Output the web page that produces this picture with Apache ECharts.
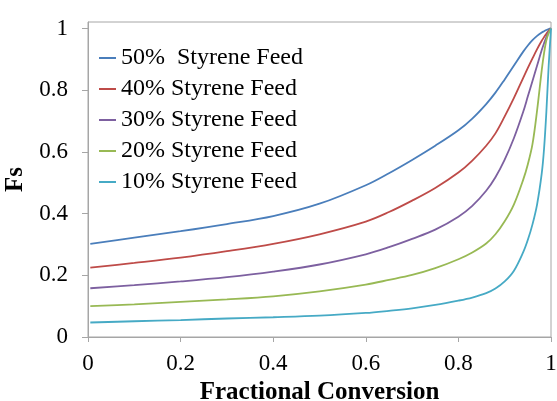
<!DOCTYPE html>
<html>
<head>
<meta charset="utf-8">
<script src="https://cdn.jsdelivr.net/npm/echarts@6/dist/echarts.min.js"></script>
<style>html,body{margin:0;padding:0;background:#fff;}#c{width:557px;height:401px;}</style>
</head>
<body>
<div id="c"></div>
<script>
const conversion = [0.005, 0.1, 0.2, 0.3, 0.4, 0.5, 0.6, 0.65, 0.7, 0.75, 0.8, 0.83, 0.86, 0.88, 0.9, 0.92, 0.94, 0.95, 0.96, 0.97, 0.98, 0.985, 0.99, 0.995, 1.0];
const seriesNames = ['50%  Styrene Feed', '40% Styrene Feed', '30% Styrene Feed', '20% Styrene Feed', '10% Styrene Feed'];
const feed50 = [0.302, 0.322, 0.343, 0.366, 0.392, 0.432, 0.492, 0.531, 0.574, 0.620, 0.670, 0.708, 0.755, 0.792, 0.835, 0.880, 0.925, 0.945, 0.962, 0.976, 0.987, 0.991, 0.995, 0.998, 1.0];
const feed40 = [0.225, 0.240, 0.257, 0.278, 0.302, 0.333, 0.374, 0.405, 0.442, 0.483, 0.533, 0.572, 0.620, 0.660, 0.715, 0.775, 0.840, 0.872, 0.903, 0.933, 0.960, 0.972, 0.983, 0.992, 1.0];
const feed30 = [0.158, 0.168, 0.180, 0.194, 0.212, 0.235, 0.268, 0.291, 0.318, 0.348, 0.390, 0.425, 0.474, 0.518, 0.575, 0.645, 0.730, 0.780, 0.830, 0.880, 0.930, 0.952, 0.972, 0.988, 1.0];
const feed20 = [0.100, 0.106, 0.114, 0.122, 0.132, 0.148, 0.170, 0.185, 0.201, 0.223, 0.252, 0.274, 0.303, 0.333, 0.375, 0.430, 0.510, 0.560, 0.625, 0.735, 0.865, 0.920, 0.962, 0.985, 1.0];
const feed10 = [0.047, 0.051, 0.055, 0.060, 0.064, 0.069, 0.078, 0.085, 0.093, 0.104, 0.118, 0.128, 0.142, 0.157, 0.180, 0.215, 0.275, 0.315, 0.365, 0.430, 0.530, 0.610, 0.730, 0.880, 1.0];
const yTicks = [0, 0.2, 0.4, 0.6, 0.8, 1];
const xTicks = [0, 0.2, 0.4, 0.6, 0.8, 1];

const colors = ['#4a7ebb', '#be4b48', '#7d60a0', '#98b954', '#46aac5'];
const allValues = [feed50, feed40, feed30, feed20, feed10];
const serif = 'Liberation Serif, Times New Roman, serif';
const frameColor = '#a6a6a6';

const chart = echarts.init(document.getElementById('c'), null, {renderer: 'canvas'});
chart.setOption({
  animation: false,
  backgroundColor: '#fff',
  grid: {left: 88, right: 6, top: 22, bottom: 64, outerBoundsMode: 'none', containLabel: false,
         show: true, borderColor: frameColor, borderWidth: 1, backgroundColor: 'transparent'},
  legend: {
    orient: 'vertical', left: 99, top: 46, padding: 0,
    itemWidth: 17, itemHeight: 2, itemGap: 7, icon: 'rect',
    textStyle: {fontFamily: serif, fontSize: 24, color: '#000'},
    data: seriesNames
  },
  xAxis: {
    type: 'value', min: 0, max: 1, interval: 0.2,
    name: 'Fractional Conversion', nameLocation: 'middle', nameGap: 38,
    nameTextStyle: {fontFamily: serif, fontSize: 25, fontWeight: 'bold', color: '#000'},
    axisLine: {show: true, lineStyle: {color: frameColor, width: 1}},
    axisTick: {show: true, length: 5, lineStyle: {color: frameColor}, customValues: xTicks},
    axisLabel: {fontFamily: serif, fontSize: 23, color: '#000', margin: 15, customValues: xTicks},
    splitLine: {show: false}
  },
  yAxis: {
    type: 'value', min: 0, max: 1.021,
    name: 'Fs', nameLocation: 'middle', nameGap: 55, nameRotate: 90,
    nameTextStyle: {fontFamily: serif, fontSize: 25, fontWeight: 'bold', color: '#000'},
    axisLine: {show: true, lineStyle: {color: frameColor, width: 1}},
    axisTick: {show: true, length: 6, lineStyle: {color: frameColor}, customValues: yTicks},
    axisLabel: {fontFamily: serif, fontSize: 23, color: '#000', margin: 20, customValues: yTicks},
    splitLine: {show: false}
  },
  series: seriesNames.map((name, i) => ({
    name: name, type: 'line', showSymbol: false, symbol: 'none',
    smooth: 0.35,
    lineStyle: {color: colors[i], width: 1.8},
    itemStyle: {color: colors[i]},
    data: conversion.map((x, j) => [x, allValues[i][j]])
  }))
});
</script>
</body>
</html>
